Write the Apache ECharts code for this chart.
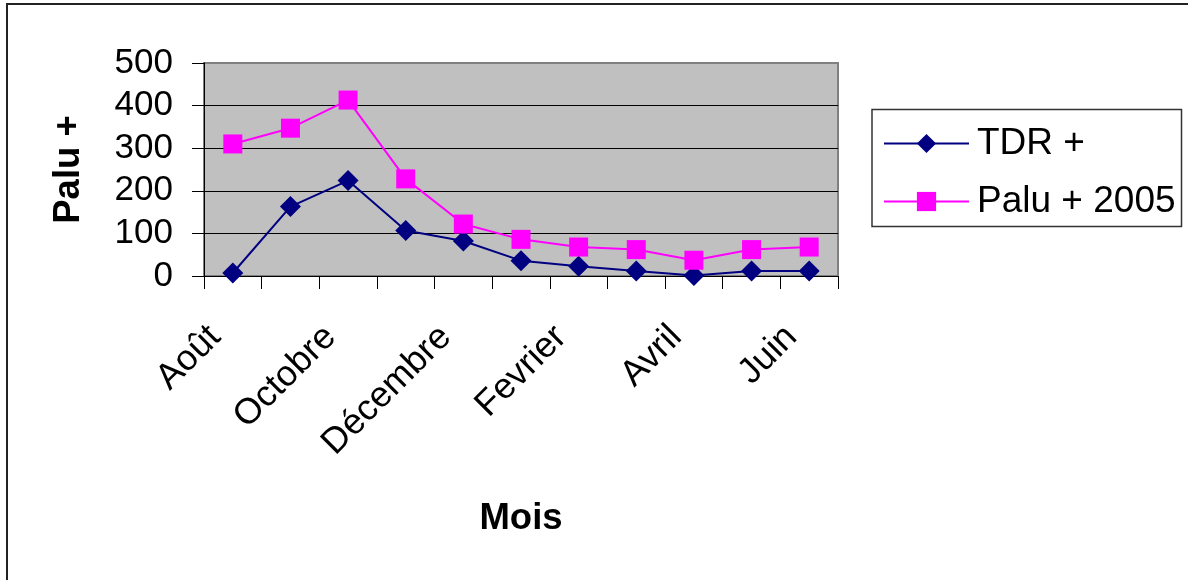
<!DOCTYPE html>
<html>
<head>
<meta charset="utf-8">
<script src="https://cdn.jsdelivr.net/npm/echarts@6/dist/echarts.min.js"></script>
<style>
  html, body { margin: 0; padding: 0; background: #fff; }
  #chart { width: 1188px; height: 580px; }
</style>
</head>
<body>
<div id="chart"></div>
<script>
// Months of the season (August to June)
const months = ['Août', 'Septembre', 'Octobre', 'Novembre', 'Décembre', 'Janvier',
                'Fevrier', 'Mars', 'Avril', 'Mai', 'Juin'];
// Positive rapid diagnostic tests
const tdrPlus = [7, 163, 224, 107, 82, 36, 23, 12, 1, 12, 12];
// Positive malaria cases, 2005
const paluPlus2005 = [310, 347, 413, 228, 122, 86, 68, 62, 37, 62, 68];
const yTicks = { min: 0, max: 500, interval: 100 };

const FONT = '"Liberation Sans", Arial, sans-serif';
const chart = echarts.init(document.getElementById('chart'), null, { renderer: 'canvas' });

chart.setOption({
  animation: false,
  backgroundColor: '#ffffff',
  textStyle: { fontFamily: FONT, color: '#000' },
  grid: {
    left: 204, top: 63, right: 350, bottom: 304,
    show: true, backgroundColor: '#c0c0c0', borderColor: '#808080', borderWidth: 2
  },
  legend: {
    orient: 'vertical',
    left: 883, top: 125,
    padding: 0,
    itemWidth: 85, itemHeight: 24, itemGap: 21,
    textStyle: { fontSize: 37, color: '#000', fontFamily: FONT, padding: [0, 0, 0, 3] },
    data: ['TDR +', 'Palu + 2005']
  },
  xAxis: {
    type: 'category',
    data: months,
    boundaryGap: true,
    name: 'Mois',
    nameLocation: 'middle',
    nameGap: 224,
    nameTextStyle: { fontSize: 36.5, fontWeight: 'bold', color: '#000', fontFamily: FONT },
    axisLine: { lineStyle: { color: '#000', width: 1 } },
    axisTick: { show: true, interval: 0, length: 13, lineStyle: { color: '#000' } },
    axisLabel: {
      interval: 1, rotate: 45, fontSize: 36, color: '#000', margin: 38,
      padding: [0, 25, 0, 0], fontFamily: FONT
    },
    splitLine: { show: false }
  },
  yAxis: {
    type: 'value',
    min: yTicks.min, max: yTicks.max, interval: yTicks.interval,
    name: 'Palu +',
    nameLocation: 'middle',
    nameGap: 117,
    nameRotate: 90,
    nameTextStyle: { fontSize: 36.5, fontWeight: 'bold', color: '#000', fontFamily: FONT },
    axisLine: { show: true, lineStyle: { color: '#000', width: 1 } },
    axisTick: { show: true, length: 12, lineStyle: { color: '#000' } },
    axisLabel: { fontSize: 35, color: '#000', margin: 31, fontFamily: FONT },
    splitLine: { show: true, lineStyle: { color: ['#000', '#000', '#000', '#000', '#000', '#808080'], width: 1 } }
  },
  series: [
    {
      name: 'TDR +',
      type: 'line',
      data: tdrPlus,
      symbol: 'diamond',
      symbolSize: 21,
      lineStyle: { color: '#000080', width: 2 },
      itemStyle: { color: '#000080' }
    },
    {
      name: 'Palu + 2005',
      type: 'line',
      data: paluPlus2005,
      symbol: 'rect',
      symbolSize: 19,
      lineStyle: { color: '#ff00ff', width: 2 },
      itemStyle: { color: '#ff00ff' }
    }
  ],
  graphic: [
    {
      type: 'rect', silent: true, z: -1,
      shape: { x: 7, y: 4, width: 1200, height: 600 },
      style: { fill: 'none', stroke: '#222', lineWidth: 2 }
    },
    {
      type: 'rect', silent: true,
      shape: { x: 872, y: 109.5, width: 309.5, height: 117 },
      style: { fill: '#fff', stroke: '#333', lineWidth: 1.5 },
      z: 0
    }
  ]
});
</script>
</body>
</html>
